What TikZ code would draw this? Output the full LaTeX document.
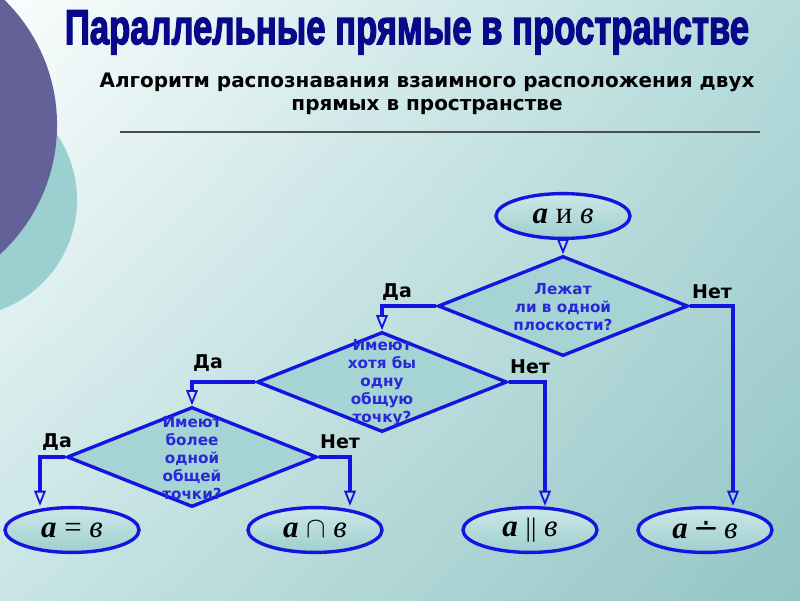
\documentclass[tikz,border=0pt]{standalone}
\usepackage{fontspec}
\usepackage{amsmath}
\usepackage{graphicx}
\usepackage{tikz}
\usetikzlibrary{arrows.meta,positioning,shapes.geometric,shadings}
\newfontfamily\headfont[BoldFeatures={FakeBold=3}]{Liberation Sans}
\newfontfamily\notefont{DejaVu Sans}
\newfontfamily\letterfont{Liberation Serif}
\definecolor{FlowBlue}{HTML}{1414E0}
\definecolor{AskBlue}{HTML}{2828D8}
\definecolor{TitleNavy}{HTML}{08088A}
\definecolor{DiscPurple}{HTML}{636197}
\definecolor{DiscTeal}{HTML}{9CCFCF}
\definecolor{OvalTop}{HTML}{CDE8E8}
\definecolor{OvalBottom}{HTML}{9ECECE}
\definecolor{DiamondFill}{HTML}{A6D3D3}

\begin{document}
\begin{tikzpicture}[x=0.025cm, y=-0.025cm,
  answeroval/.style={ellipse, draw=FlowBlue, line width=2.4pt,
               top color=OvalTop, bottom color=OvalBottom,
               minimum width=3.35cm, minimum height=1.12cm, inner sep=0pt,
               font=\letterfont\fontsize{22}{24}\selectfont},
  testdiamond/.style={diamond, draw=FlowBlue, line width=2.4pt, fill=DiamondFill,
               minimum width=6.25cm, minimum height=2.5cm, inner sep=0pt},
  asktext/.style={align=center, text=AskBlue, inner sep=0pt,
               font=\notefont\bfseries\fontsize{10.8}{12.8}\selectfont},
  answer/.style={inner sep=0pt, font=\notefont\bfseries\fontsize{13.5}{15}\selectfont},
  flow/.style={-{Triangle[open, length=3.8mm, width=2.9mm, line width=1.3pt]},
               line width=2.2pt, draw=FlowBlue}
]
\useasboundingbox (0,0) rectangle (800,600);
\begin{scope}
\clip (0,0) rectangle (800,600);
\shade[upper left=white!95!DiscTeal, upper right=DiscTeal!75, lower left=DiscTeal!55, lower right=DiscTeal!95!black]
  (0,0) rectangle (800,600);
\fill[DiscTeal] (-40,200) circle (2.925cm);
\fill[DiscPurple] (-118,125) circle (4.375cm);
\end{scope}

% heading
\node[inner sep=0pt, anchor=north, text=TitleNavy] (title) at (407,10)
  {\resizebox*{17.1cm}{1.1cm}{\headfont\bfseries Параллельные прямые в пространстве}};
\node[align=center, inner sep=0pt, font=\notefont\bfseries\fontsize{14.2}{16.3}\selectfont]
  (subtitle) at (427,94) {Алгоритм распознавания взаимного расположения двух\\прямых в пространстве};
\draw[line width=0.8pt, draw=black!70] (120,132) -- (760,132);

% questions
\node[answeroval] (start) at (563,216) {{\bfseries\itshape а} и {\itshape в}};
\node[testdiamond] (q1) at (563,306) {};
\node[asktext] (q1text) at (563,307) {Лежат\\ли в одной\\плоскости?};
\node[testdiamond] (q2) at (382,382) {};
\node[asktext] (q2text) at (382,383) {Имеют\\хотя бы\\одну\\общую\\точку?};
\node[testdiamond] (q3) at (192,457) {};
\node[asktext] (q3text) at (192,458) {Имеют\\более\\одной\\общей\\точки?};

% answers
\node[answeroval] (same) at (72,530) {{\bfseries\itshape а} = {\itshape в}};
\node[answeroval] (cross) at (315,530) {{\bfseries\itshape а} $\cap$ {\itshape в}};
\node[answeroval] (para) at (530,530)
  {{\bfseries\itshape а} {\fontsize{19}{19}\selectfont||} {\itshape в}};
\node[answeroval] (skew) at (705,530) {{\bfseries\itshape а}\,{\notefont ∸}\,{\itshape в}};

\node[answer] (yes1) at (397,292) {Да};
\node[answer] (no1) at (712,292) {Нет};
\node[answer] (yes2) at (208,363) {Да};
\node[answer] (no2) at (530,367) {Нет};
\node[answer] (yes3) at (57,442) {Да};
\node[answer] (no3) at (340,442) {Нет};

\coordinate (drop1) at (733,306);
\coordinate (drop2) at (545,382);
\coordinate (drop3) at (40,457);
\coordinate (drop4) at (350,457);
\draw[flow] (start) -- (q1);
\draw[flow] (q1.west) -| (q2.north);
\draw[flow] (q1.east) -| (drop1 |- skew.north);
\draw[flow] (q2.west) -| (q3.north);
\draw[flow] (q2.east) -| (drop2 |- para.north);
\draw[flow] (q3.west) -| (drop3 |- same.north);
\draw[flow] (q3.east) -| (drop4 |- cross.north);
\end{tikzpicture}
\end{document}
